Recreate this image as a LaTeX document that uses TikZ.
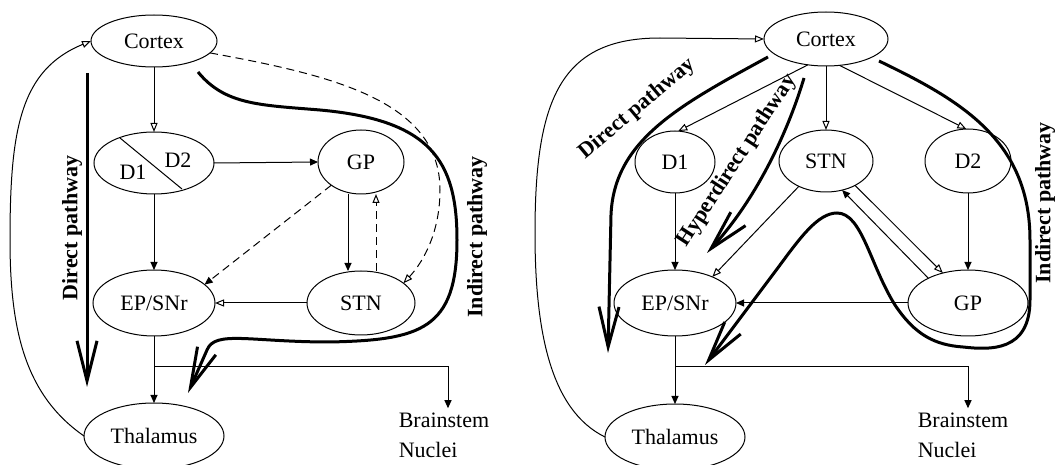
\documentclass[tikz,border=0pt]{standalone}
\usepackage{fontspec}
\setmainfont{Liberation Serif}
\usetikzlibrary{shapes.geometric,arrows.meta}
\begin{document}
\begin{tikzpicture}[x=0.5pt,y=-0.5pt,
  every node/.style={font=\fontsize{11}{15}\selectfont},
  ell/.style={draw, ellipse, inner sep=0pt, outer sep=0pt, line width=0.5pt},
  fa/.style={line width=0.5pt, -{Triangle[length=4pt,width=3.5pt]}},
  oa/.style={line width=0.5pt, -{Triangle[open,length=4.5pt,width=3.5pt]}},
  ln/.style={line width=0.5pt},
  dsh/.style={dash pattern=on 4pt off 2.5pt},
  bigarrow/.style={line width=1.5pt, -{Straight Barb[length=20pt,width=10pt]}},
  lbl/.style={font=\fontsize{11}{13}\selectfont\bfseries}
]
\path[use as bounding box] (0,0) rectangle (1057,465);

% ---------------- left diagram ----------------
\node[ell, minimum width=63pt, minimum height=26pt] (cxl) at (154,41) {Cortex};
\node[ell, minimum width=60pt, minimum height=31pt] (ddl) at (154,163) {};
\node[ell, minimum width=43pt, minimum height=32pt] (gpl) at (361,162) {GP};
\node[ell, minimum width=61pt, minimum height=33pt] (epl) at (154,303) {EP/SNr};
\node[ell, minimum width=54pt, minimum height=32pt] (stnl) at (361,303) {STN};
\node[ell, minimum width=70pt, minimum height=33pt] (thl) at (154,436) {Thalamus};
\node[align=left, inner sep=2pt] (bsl) at (444,435) {Brainstem\\Nuclei};
\node (d1l) at (133,172) {D1};
\node (d2l) at (178,160) {D2};
\draw[ln] (120,138) -- (182,189);

\coordinate (xg) at (348,0);
\coordinate (xs) at (376,0);
\coordinate (jl) at (154,367);

\draw[oa] (cxl.south) -- (ddl.north);
\draw[fa] (ddl.east) -- (gpl.west);
\draw[fa] (ddl.south) -- (epl.north);
\draw[fa] (gpl.south -| xg) -- (stnl.north -| xg);
\draw[oa,dsh] (stnl.north -| xs) -- (gpl.south -| xs);
\draw[fa,dsh] (gpl.218) -- (epl.20);
\draw[oa] (stnl.west) -- (epl.east);
\draw[oa,dsh] (cxl.-12) .. controls (330,75) and (440,100) .. (440,190)
   .. controls (440,230) and (425,260) .. (stnl.25);
\draw[fa] (epl.south) -- (thl.north);
\draw[fa] (jl) -| ([xshift=2pt]bsl.north);
\draw[oa] (thl.west) .. controls (25,395) and (10,330) .. (10,240)
   .. controls (10,130) and (20,70) .. (cxl.west);

\draw[bigarrow] (87,73) -- (87,387);
\draw[bigarrow] (198,72) .. controls (225,105) and (260,105) .. (320,110)
   .. controls (430,120) and (457,160) .. (457,240)
   .. controls (457,330) and (420,340) .. (330,342)
   .. controls (250,342) and (215,330) .. (207,350) -- (188,393);

\node[lbl, rotate=90] (labdl) at (72,228) {Direct pathway};
\node[lbl, rotate=90] (labil) at (477,237) {Indirect pathway};

% ---------------- right diagram ----------------
\node[ell, minimum width=62pt, minimum height=27pt] (cxr) at (826,39) {Cortex};
\node[ell, minimum width=40pt, minimum height=31pt] (d1r) at (675,162) {D1};
\node[ell, minimum width=47pt, minimum height=31pt] (stnr) at (826,161) {STN};
\node[ell, minimum width=43pt, minimum height=32pt] (d2r) at (968,161) {D2};
\node[ell, minimum width=61pt, minimum height=33pt] (epr) at (675,303) {EP/SNr};
\node[ell, minimum width=60pt, minimum height=33pt] (gpr) at (968,303) {GP};
\node[ell, minimum width=70pt, minimum height=33pt] (thr) at (675,437) {Thalamus};
\node[align=left, inner sep=2pt] (bsr) at (963,435) {Brainstem\\Nuclei};

\coordinate (jr) at (675,367);

\draw[oa] (cxr.235) -- (d1r.84);
\draw[oa] (cxr.south) -- (stnr.north);
\draw[oa] (cxr.297) -- (d2r.93);
\draw[fa] (d1r.south) -- (epr.north);
\draw[fa] (d2r.south) -- (gpr.north);
\draw[oa] (stnr.223) -- (epr.35);
\draw[oa] (stnr.320) -- (gpr.130);
\draw[fa] (gpr.148) -- (stnr.299);
\draw[fa] (gpr.west) -- (epr.east);
\draw[fa] (epr.south) -- (thr.north);
\draw[fa] (jr) -| ([xshift=2.5pt]bsr.north);
\draw[oa] (thr.west) .. controls (550,410) and (535,330) .. (535,233)
   .. controls (535,100) and (560,38) .. (660,38) -- (cxr.west);

\draw[bigarrow] (768,57) .. controls (680,105) and (614,140) .. (611,215) -- (608,353);
\draw[bigarrow] (804,78) .. controls (790,125) and (760,195) .. (707,253);
\draw[bigarrow] (879,61) .. controls (960,100) and (1030,140) .. (1030,240) -- (1030,300)
   .. controls (1030,352) and (990,350) .. (963,347)
   .. controls (935,345) and (915,335) .. (895,305)
   .. controls (870,265) and (862,213) .. (837,213)
   .. controls (818,213) and (800,238) .. (780,265) -- (705,365);

\node[lbl, rotate=40] (labdr) at (637,109) {Direct pathway};
\node[lbl, rotate=57] (labhr) at (737,161) {Hyperdirect pathway};
\node[lbl, rotate=90] (labir) at (1045,203) {Indirect pathway};
\end{tikzpicture}
\end{document}
